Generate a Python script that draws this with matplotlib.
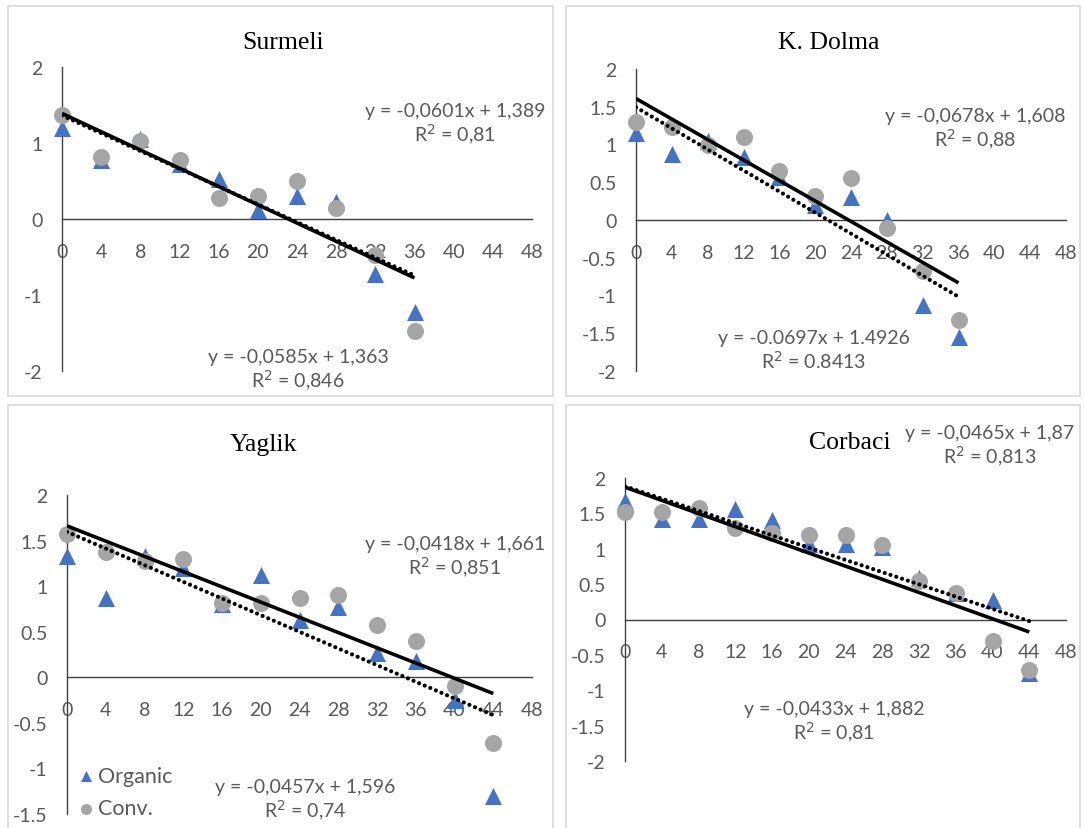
import matplotlib
matplotlib.use("Agg")
import matplotlib.pyplot as plt
import numpy as np
from matplotlib.patches import Rectangle
from matplotlib.ticker import FormatStrFormatter

W, H = 1084, 829

weeks_36 = [0, 4, 8, 12, 16, 20, 24, 28, 32, 36]
weeks_44 = [0, 4, 8, 12, 16, 20, 24, 28, 32, 36, 40, 44]

surmeli_organic = [1.20, 0.78, 1.05, 0.72, 0.52, 0.12, 0.30, 0.22, -0.72, -1.22]
surmeli_conv = [1.37, 0.82, 1.02, 0.78, 0.28, 0.30, 0.50, 0.15, -0.48, -1.47]

dolma_organic = [1.15, 0.87, 1.05, 0.83, 0.57, 0.20, 0.30, 0.00, -1.12, -1.55]
dolma_conv = [1.30, 1.23, 1.00, 1.10, 0.65, 0.32, 0.55, -0.10, -0.68, -1.32]

yaglik_organic = [1.33, 0.87, 1.33, 1.20, 0.80, 1.12, 0.63, 0.77, 0.27, 0.18, -0.25, -1.30]
yaglik_conv = [1.57, 1.37, 1.28, 1.30, 0.82, 0.82, 0.87, 0.90, 0.57, 0.40, -0.10, -0.72]

corbaci_organic = [1.68, 1.42, 1.42, 1.56, 1.40, 1.07, 1.07, 1.02, 0.58, 0.38, 0.27, -0.75]
corbaci_conv = [1.52, 1.52, 1.58, 1.30, 1.22, 1.20, 1.20, 1.05, 0.55, 0.37, -0.30, -0.72]

# trendlines (slope, intercept) as printed on the chart
surmeli_fit = [(-0.0601, 1.389), (-0.0585, 1.363)]
dolma_fit = [(-0.0678, 1.608), (-0.0697, 1.4926)]
yaglik_fit = [(-0.0418, 1.661), (-0.0457, 1.596)]
corbaci_fit = [(-0.0465, 1.87), (-0.0433, 1.882)]

surmeli_eq = ["y = -0,0601x + 1,389\nR$^2$ = 0,81", "y = -0,0585x + 1,363\nR$^2$ = 0,846"]
dolma_eq = ["y = -0,0678x + 1,608\nR$^2$ = 0,88", "y = -0.0697x + 1.4926\nR$^2$ = 0.8413"]
yaglik_eq = ["y = -0,0418x + 1,661\nR$^2$ = 0,851", "y = -0,0457x + 1,596\nR$^2$ = 0,74"]
corbaci_eq = ["y = -0,0465x + 1,87\nR$^2$ = 0,813", "y = -0,0433x + 1,882\nR$^2$ = 0,81"]

BLUE = "#4472C4"
GREY = "#A5A5A5"
TXT = "#595959"
SANS = ["Lato", "DejaVu Sans"]
SERIF = ["Liberation Serif", "DejaVu Serif"]

panels = [
    dict(title="Surmeli", x=weeks_36, org=surmeli_organic, conv=surmeli_conv,
         fit=surmeli_fit, eq=surmeli_eq, box=(8, 7, 553, 397), title_px=(283, 43),
         ax_px=(62, 68, 532, 372), ylim=(-2, 2), ystep=1,
         eq_px=[(455, 125), (298, 371)]),
    dict(title="K. Dolma", x=weeks_36, org=dolma_organic, conv=dolma_conv,
         fit=dolma_fit, eq=dolma_eq, box=(566, 7, 1080, 397), title_px=(829, 43),
         ax_px=(636, 70, 1066, 372), ylim=(-2, 2), ystep=0.5,
         eq_px=[(975, 130), (814, 351)]),
    dict(title="Yaglik", x=weeks_44, org=yaglik_organic, conv=yaglik_conv,
         fit=yaglik_fit, eq=yaglik_eq, box=(8, 406, 553, 840), title_px=(263, 445),
         ax_px=(67, 496, 532, 815), ylim=(-1.5, 2), ystep=0.5,
         eq_px=[(455, 558), (305, 801)]),
    dict(title="Corbaci", x=weeks_44, org=corbaci_organic, conv=corbaci_conv,
         fit=corbaci_fit, eq=corbaci_eq, box=(566, 406, 1080, 840), title_px=(850, 443),
         ax_px=(625, 479, 1066, 762), ylim=(-2, 2), ystep=0.5,
         eq_px=[(990, 447), (834, 723)]),
]

fig = plt.figure(figsize=(W / 100, H / 100), dpi=100)
fig.patch.set_facecolor("white")

for p in panels:
    x0, y0, x1, y1 = p["box"]
    fig.patches.append(Rectangle((x0 / W, 1 - y1 / H), (x1 - x0) / W, (y1 - y0) / H,
                                 transform=fig.transFigure, fill=False,
                                 edgecolor="#d9d9d9", linewidth=1.2))

    l, t, r, b = p["ax_px"]
    ax = fig.add_axes([l / W, 1 - b / H, (r - l) / W, (b - t) / H])
    ax.set_facecolor("none")
    ax.set_xlim(0, 48)
    ax.set_ylim(*p["ylim"])
    ax.set_xticks(np.arange(0, 49, 4))
    ax.set_yticks(np.arange(p["ylim"][0], p["ylim"][1] + 0.01, p["ystep"]))
    ax.yaxis.set_major_formatter(FormatStrFormatter("%g"))
    for s in ["top", "right"]:
        ax.spines[s].set_visible(False)
    ax.spines["left"].set_position(("data", 0))
    ax.spines["bottom"].set_position(("data", 0))
    for s in ["left", "bottom"]:
        ax.spines[s].set_color("#404040")
        ax.spines[s].set_linewidth(1.0)
    ax.tick_params(axis="x", length=0, pad=17, labelsize=14, labelcolor=TXT)
    ax.tick_params(axis="y", length=0, pad=14, labelsize=14, labelcolor=TXT)
    for lab in ax.get_xticklabels() + ax.get_yticklabels():
        lab.set_family(SANS)

    ax.scatter(p["x"], p["org"], marker="^", s=150, color=BLUE, zorder=3,
               linewidths=0, clip_on=False, label="Organic")
    ax.scatter(p["x"], p["conv"], marker="o", s=150, color=GREY, zorder=4,
               linewidths=0, clip_on=False, label="Conv.")

    xs = np.array([0, p["x"][-1]])
    (m1, c1), (m2, c2) = p["fit"]
    ax.plot(xs, m1 * xs + c1, color="black", linewidth=2.6, zorder=5,
            solid_capstyle="butt")
    ax.plot(xs, m2 * xs + c2, color="black", linewidth=3.0, zorder=5,
            linestyle=(0, (0.01, 1.45)), dash_capstyle="round")

    for (ex, ey), txt in zip(p["eq_px"], p["eq"]):
        fig.text(ex / W, 1 - ey / H, txt, ha="center", va="center", fontsize=14,
                 color=TXT, family=SANS, linespacing=1.15)

    tx, ty = p["title_px"]
    fig.text(tx / W, 1 - ty / H, p["title"], ha="center", va="center",
             fontsize=18.5, color="black", family=SERIF)

    if p["title"] == "Yaglik":
        leg = ax.legend(loc="lower left", bbox_to_anchor=(0.022, -0.014),
                        frameon=False, handletextpad=0.15, labelspacing=0.6,
                        handlelength=0.8, borderaxespad=0, borderpad=0,
                        markerscale=0.65, prop={"family": SANS, "size": 15.5})
        for t_ in leg.get_texts():
            t_.set_color(TXT)

fig.savefig("out.png", dpi=100, facecolor="white")
